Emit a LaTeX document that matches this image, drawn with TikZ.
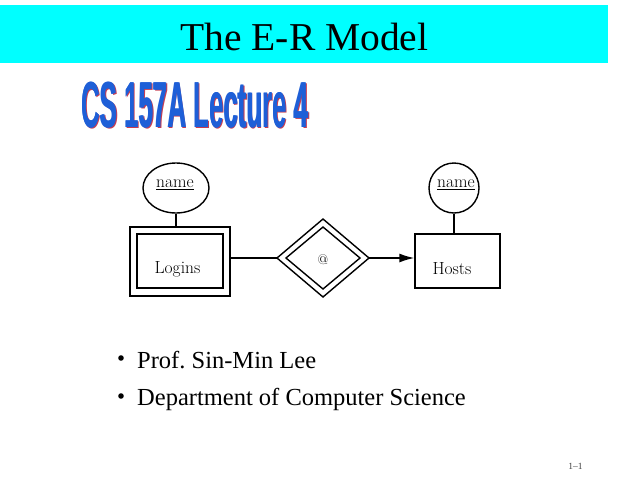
\documentclass[tikz,border=0pt]{standalone}
\usepackage{fontspec}
\newfontfamily\timesf[Ligatures=TeX]{Liberation Serif}
\newfontfamily\arialf{Liberation Sans}
\usetikzlibrary{arrows.meta,shapes.geometric}
\definecolor{bannercyan}{RGB}{0,255,255}
\definecolor{lecblue}{RGB}{30,95,215}
\definecolor{lecred}{RGB}{200,60,80}
\frenchspacing
\tikzset{
  erline/.style={line width=1.4pt, black},
  erlabel/.style={font=\fontsize{17.5}{19}\selectfont, inner sep=0pt},
  bullettext/.style={font=\timesf\fontsize{24.5}{26}\selectfont, anchor=base west, inner sep=0pt},
  lecstyle/.style={font=\arialf\bfseries\fontsize{65}{67}\selectfont, anchor=base west, inner sep=0pt, xscale=0.398},
}
\begin{document}
\begin{tikzpicture}[x=1pt,y=-1pt]
\useasboundingbox (0,0) rectangle (640,480);
\fill[white] (0,0) rectangle (640,480);
% banner
\fill[bannercyan] (0,5) rectangle (608,63);
\node[font=\timesf\fontsize{39.5}{42}\selectfont, anchor=base, inner sep=0pt] (title) at (304.5,50) {The E-R Model};
% lecture heading
\node[lecstyle, text=lecred] (lecshadow) at (82.5,128.5) {CS 157A Lecture 4};
\node[lecstyle, text=lecblue] (lecb) at (81.7,127) {CS 157A Lecture 4};
\node[lecstyle, text=lecblue] (lec) at (81,127) {CS 157A Lecture 4};
% ER diagram
\node[erline, draw, ellipse, minimum width=66pt, minimum height=50pt, inner sep=0pt] (n1) at (176,188) {};
\node[erlabel] (n1t) at (175,185) {\underline{name}};
\node[erline, draw, ellipse, minimum width=50pt, minimum height=50pt, inner sep=0pt] (n2) at (454,188) {};
\node[erlabel] (n2t) at (456,185) {\underline{name}};
\node[erline, draw, minimum width=100pt, minimum height=69pt, inner sep=0pt] (logout) at (180,261.5) {};
\node[erline, draw, minimum width=86pt, minimum height=54pt, inner sep=0pt] (login) at (180,261) {};
\node[erlabel] (logt) at (177.5,269) {Logins};
\node[erline, draw, minimum width=85pt, minimum height=54pt, inner sep=0pt] (hosts) at (457.5,261) {};
\node[erlabel] (hostt) at (452,269) {Hosts};
\draw[erline] (277,258) coordinate (dl) -- (323,219) coordinate (dt) -- (369,258) coordinate (dr) -- (323,297) -- cycle;
\draw[erline] (286,258) -- (323,227) -- (360,258) -- (323,289) -- cycle;
\node[font=\fontsize{14}{15}\selectfont, inner sep=0pt] (at) at (323,260) {@};
\draw[erline] (n1.south) -- (logout.north -| n1.south);
\draw[erline] (n2.south) -- (hosts.north -| n2.south);
\draw[erline] (logout.east |- dl) -- (dl);
\draw[erline, -{Latex[length=15pt, width=9pt]}] (dr) -- (hosts.west |- dr);
% bullets
\fill (121,358) circle (2.8pt);
\fill (121,396) circle (2.8pt);
\node[bullettext] (b1) at (137,368) {Prof. Sin-Min Lee};
\node[bullettext] (b2) at (137,405) {Department of Computer Science};
\node[font=\timesf\fontsize{9.5}{10}\selectfont, text=black!75, anchor=base, inner sep=0pt] (pg) at (575.5,469) {1–1};
\end{tikzpicture}
\end{document}
